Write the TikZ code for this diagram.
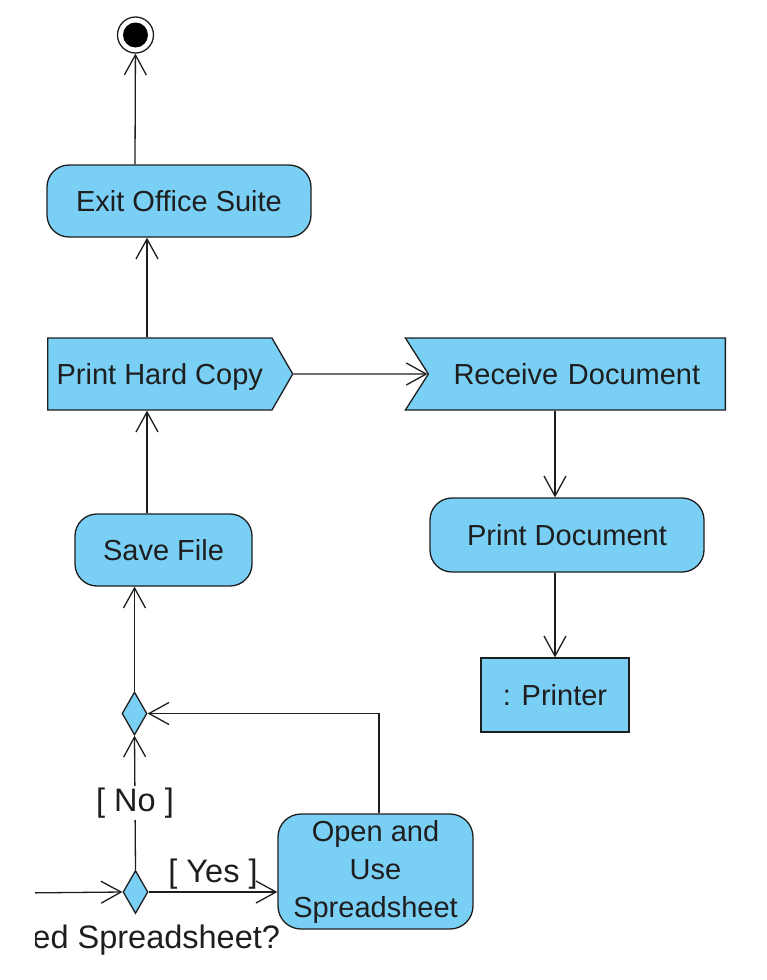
\documentclass[tikz,border=0pt]{standalone}
\usepackage{fontspec}
\setmainfont{Liberation Sans}
\usetikzlibrary{shapes.geometric,shapes.symbols,arrows.meta}
\definecolor{actfill}{RGB}{122,207,245}
\definecolor{inkline}{RGB}{30,30,30}

\begin{document}
\begin{tikzpicture}[x=1pt,y=-1pt,
  action/.style={shape=rectangle,rounded corners=22pt,draw=inkline,fill=actfill,align=center,line width=1.3pt,font=\fontsize{29}{38}\selectfont,text=inkline},
  objbox/.style={shape=rectangle,draw=inkline,fill=actfill,align=center,line width=1.3pt,font=\fontsize{29}{38}\selectfont,text=inkline},
  sendsig/.style={shape=signal,signal to=east,signal from=nowhere,signal pointer angle=120,draw=inkline,fill=actfill,line width=1.3pt,font=\fontsize{29}{38}\selectfont,text=inkline},
  acceptsig/.style={shape=signal,signal from=west,signal to=nowhere,signal pointer angle=115,draw=inkline,fill=actfill,line width=1.3pt,font=\fontsize{29}{38}\selectfont,text=inkline},
  branch/.style={shape=diamond,draw=inkline,fill=actfill,line width=1.3pt,inner sep=0pt,minimum width=25pt,minimum height=43pt},
  guard/.style={font=\fontsize{32.5}{36}\selectfont,text=inkline,inner sep=2pt},
  flow/.style={draw=inkline,line width=1.3pt,-{Straight Barb[length=20pt,width=22pt]}}]
\useasboundingbox (0,0) rectangle (766,980);
\clip (35,0) rectangle (766,980);
\coordinate (colA) at (135,0);
\coordinate (colB) at (147,0);
\coordinate (colC) at (555,0);
\coordinate (colD) at (379,0);
\coordinate (in) at (20,893);

\node[shape=circle,draw=inkline,fill=white,line width=1.3pt,minimum size=36pt,inner sep=0pt,path picture={\fill[black] (path picture bounding box.center) circle (12.5pt);}] (0) at (135.5,35) {};
\node[action,minimum width=264pt,minimum height=72pt] (1) at (179,201) {Exit Office Suite};
\node[sendsig,anchor=west,inner xsep=9pt,text depth=0pt,minimum height=72pt] (2) at (47,374) {Print Hard Copy};
\node[acceptsig,anchor=east,text width=297pt,align=center,inner xsep=0pt,minimum height=72pt] (3) at (726,374) {Receive Document};
\node[action,minimum width=274pt,minimum height=74pt] (4) at (567,535) {Print Document};
\node[objbox,minimum width=148pt,minimum height=74pt] (5) at (555,695) {: Printer};
\node[action,minimum width=177pt,minimum height=72pt] (6) at (163.5,550) {Save File};
\node[branch] (7) at (134.5,713.5) {};
\node[branch,label={[guard,label distance=9pt]below:Need Spreadsheet?}] (8) at (135.5,892) {};
\node[action,rounded corners=23pt,minimum width=195pt,minimum height=115pt,inner sep=0pt] (9) at (375.5,871.5) {Open and\\Use\\Spreadsheet};

\draw [flow] (1.north -| colA) -- (0);
\draw [flow] (2.north -| colB) -- (1.south -| colB);
\draw [flow] (2.east) -- (3);
\draw [flow] (3.south -| colC) -- (4.north -| colC);
\draw [flow] (4.south -| colC) -- (5.north);
\draw [flow] (6.north -| colB) -- (2.south -| colB);
\draw [flow] (7.north) -- (6.south -| 7.north);
\draw [flow] (8.north) -- node[guard,fill=white] {[ No ]} (7.south);
\draw [flow] (in) -- (8.west);
\draw [flow] (8.east) -- node[guard,above] {[ Yes ]} (9.west |- 8.east);
\draw [flow] (9.north -| colD) |- (7.east);
\end{tikzpicture}
\end{document}
